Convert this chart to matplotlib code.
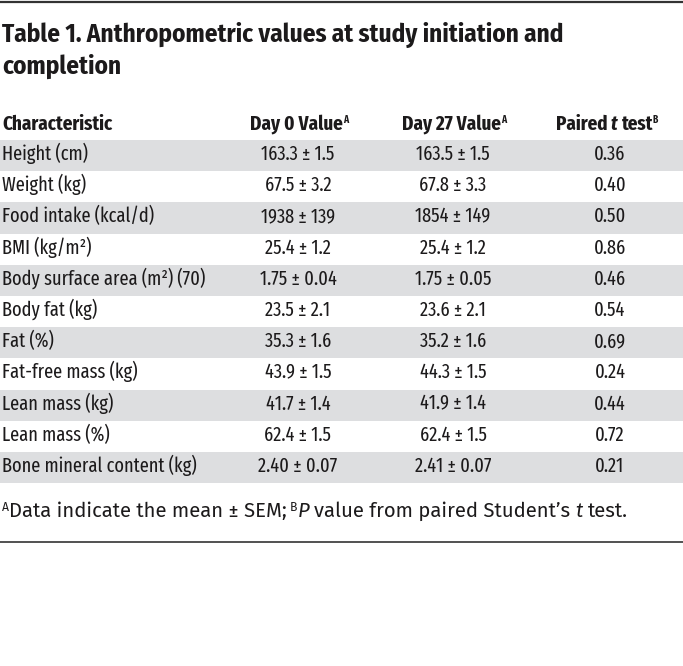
import matplotlib
matplotlib.use("Agg")
import matplotlib.pyplot as plt
from matplotlib import font_manager

# table content
title_lines = ["Table 1. Anthropometric values at study initiation and", "completion"]
col_headers = ["Characteristic", "Day 0 Value", "Day 27 Value", "Paired t test"]
characteristics = ["Height (cm)", "Weight (kg)", "Food intake (kcal/d)", "BMI (kg/m²)",
                   "Body surface area (m²) (70)", "Body fat (kg)", "Fat (%)",
                   "Fat-free mass (kg)", "Lean mass (kg)", "Lean mass (%)",
                   "Bone mineral content (kg)"]
day0 = ["163.3 ± 1.5", "67.5 ± 3.2", "1938 ± 139", "25.4 ± 1.2", "1.75 ± 0.04",
        "23.5 ± 2.1", "35.3 ± 1.6", "43.9 ± 1.5", "41.7 ± 1.4", "62.4 ± 1.5",
        "2.40 ± 0.07"]
day27 = ["163.5 ± 1.5", "67.8 ± 3.3", "1854 ± 149", "25.4 ± 1.2", "1.75 ± 0.05",
         "23.6 ± 2.1", "35.2 ± 1.6", "44.3 ± 1.5", "41.9 ± 1.4", "62.4 ± 1.5",
         "2.41 ± 0.07"]
p_values = ["0.36", "0.40", "0.50", "0.86", "0.46", "0.54", "0.69", "0.24",
            "0.44", "0.72", "0.21"]

available = {f.name for f in font_manager.fontManager.ttflist}
def pick(*names):
    return next((n for n in names if n in available), "DejaVu Sans")

body_font = pick("Fira Sans Extra Condensed", "Roboto Condensed")
title_font = pick("Fira Sans Condensed", "Roboto Condensed")
foot_font = pick("Fira Sans", "Open Sans")

ink = "#1c1a1b"
band = "#dddee0"

fig = plt.figure(figsize=(6.83, 6.66), dpi=100)
ax = fig.add_axes([0, 0, 1, 1])
ax.set_xlim(0, 683)
ax.set_ylim(666, 0)
ax.axis("off")
rend = fig.canvas.get_renderer()


def width(s, **props):
    t = ax.text(0, 0, s, **props)
    w = t.get_window_extent(rend).width
    t.remove()
    return w


def fit(s, target, **props):
    # font size that makes s about target pixels wide
    return 10 * target / width(s, fontsize=10, **props)


def runs(x, y, parts, ha="left"):
    # parts: (text, props, gap_in_spaces, raise_px)
    placed = []
    cur = 0
    for s, props, gap, rise in parts:
        sp = width("x x", **props) - width("xx", **props)
        cur += gap * sp
        t = ax.text(0, y - rise, s, va="baseline", ha="left", color=ink, **props)
        placed.append((t, cur))
        cur += t.get_window_extent(rend).width
    x0 = x - cur / 2 if ha == "center" else x
    for t, off in placed:
        t.set_x(x0 + off)


body_size = fit("Bone mineral content (kg)", 196, family=body_font)
head_size = fit("Characteristic", 111, family=body_font, weight="bold")
title_size = fit(title_lines[0], 563, family=title_font, weight="bold")
foot_size = fit("Data indicate the mean ± SEM; P value from paired Student’s t test.",
                614, family=foot_font)

reg = dict(family=body_font, fontsize=body_size)
bold = dict(family=body_font, fontsize=head_size, weight="bold")
sup = dict(family=body_font, fontsize=head_size * 0.5, weight="bold")

ax.axhline(1.5, color="#333333", lw=1.6)
ax.axhline(542, color="#333333", lw=1.2)

for line, yb in zip(title_lines, [42, 74]):
    ax.text(2, yb, line, family=title_font, fontsize=title_size, weight="bold",
            va="baseline", color=ink)

col_x = [2, 298, 453, 610]
hy = 130
runs(col_x[0], hy, [(col_headers[0], bold, 0, 0)])
runs(col_x[1] + 1, hy, [(col_headers[1], bold, 0, 0), ("A", sup, 0.1, 7)], ha="center")
runs(col_x[2] + 1, hy, [(col_headers[2], bold, 0, 0), ("A", sup, 0.1, 7)], ha="center")
runs(col_x[3] - 3, hy, [("Paired", bold, 0, 0),
                        ("t", dict(bold, style="italic"), 1, 0),
                        ("test", bold, 1, 0), ("B", sup, 0.0, 7)], ha="center")

top = 140
row_h = 31.2
for i, name in enumerate(characteristics):
    y0 = top + i * row_h
    if i % 2 == 0:
        ax.axhspan(y0, y0 + row_h, color=band, lw=0)
    base = y0 + 20
    ax.text(col_x[0], base, name, va="baseline", ha="left", color=ink, **reg)
    ax.text(col_x[1], base, day0[i], va="baseline", ha="center", color=ink, **reg)
    ax.text(col_x[2], base, day27[i], va="baseline", ha="center", color=ink, **reg)
    ax.text(col_x[3], base, p_values[i], va="baseline", ha="center", color=ink, **reg)

fn = dict(family=foot_font, fontsize=foot_size)
fsup = dict(family=foot_font, fontsize=foot_size * 0.6)
runs(2, 517, [("A", fsup, 0, 6), ("Data indicate the mean ± SEM;", fn, 0, 0),
              ("B", fsup, 1, 6), ("P", dict(fn, style="italic"), 0, 0),
              ("value from paired Student’s", fn, 1, 0),
              ("t", dict(fn, style="italic"), 1, 0), ("test.", fn, 1, 0)])

fig.savefig("out.png", dpi=100)
